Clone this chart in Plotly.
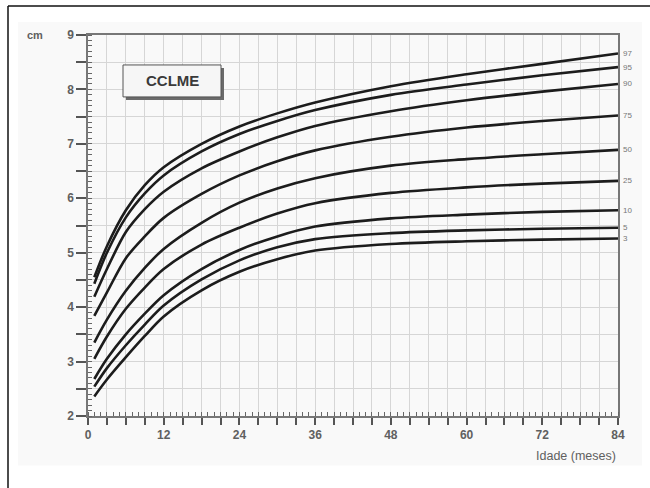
import plotly.graph_objects as go

# ---- data ----
months = [1, 3, 6, 9, 12, 18, 24, 30, 36, 48, 60, 72, 84]
p97 = [4.55, 5.12, 5.78, 6.24, 6.57, 7.00, 7.32, 7.56, 7.76, 8.06, 8.28, 8.47, 8.66]
p95 = [4.43, 5.00, 5.65, 6.09, 6.42, 6.86, 7.18, 7.42, 7.62, 7.90, 8.09, 8.26, 8.41]
p90 = [4.19, 4.70, 5.38, 5.80, 6.12, 6.55, 6.86, 7.12, 7.33, 7.60, 7.80, 7.96, 8.10]
p75 = [3.84, 4.27, 4.90, 5.30, 5.64, 6.08, 6.42, 6.68, 6.88, 7.13, 7.30, 7.42, 7.52]
p50 = [3.35, 3.77, 4.30, 4.72, 5.07, 5.55, 5.92, 6.18, 6.37, 6.60, 6.72, 6.81, 6.89]
p25 = [3.05, 3.46, 3.97, 4.36, 4.70, 5.15, 5.46, 5.72, 5.91, 6.10, 6.20, 6.27, 6.32]
p10 = [2.68, 3.05, 3.50, 3.88, 4.22, 4.70, 5.05, 5.30, 5.48, 5.63, 5.70, 5.75, 5.78]
p5 = [2.54, 2.88, 3.30, 3.68, 4.03, 4.51, 4.86, 5.10, 5.25, 5.36, 5.41, 5.44, 5.46]
p3 = [2.36, 2.67, 3.08, 3.47, 3.83, 4.31, 4.65, 4.88, 5.04, 5.16, 5.21, 5.24, 5.26]

percentile_names = ["97", "95", "90", "75", "50", "25", "10", "5", "3"]
series = [p97, p95, p90, p75, p50, p25, p10, p5, p3]

x_tick_values = list(range(0, 85, 3))
x_tick_labels = ["<b>%d</b>" % v if v % 12 == 0 else "" for v in x_tick_values]
y_tick_values = [2 + 0.5 * i for i in range(15)]
y_tick_labels = ["<b>%d</b>" % int(v) if v == int(v) else "" for v in y_tick_values]

title_box_text = "CCLME"
y_unit_text = "cm"
x_title_text = "Idade (meses)"

# ---- layout helpers (pixel -> paper) ----
W, H = 650, 488
PX0, PX1, PY0, PY1 = 88, 618, 35, 416.5


def px(x):
    return (x - PX0) / (PX1 - PX0)


def py(y):
    return (PY1 - y) / (PY1 - PY0)


FONT = "Liberation Sans, Arial, sans-serif"
GRAY = "#606060"

fig = go.Figure()
for name, vals in zip(percentile_names, series):
    fig.add_trace(go.Scatter(
        x=months, y=vals, mode="lines", name=name,
        line=dict(color="#1c1c1c", width=2.6, shape="spline", smoothing=0.9),
        hoverinfo="skip", showlegend=False,
    ))

annotations = []
for name, vals in zip(percentile_names, series):
    annotations.append(dict(
        x=months[-1], y=vals[-1], xref="x", yref="y", text=name,
        showarrow=False, xanchor="left", yanchor="middle", xshift=3,
        font=dict(family=FONT, size=8, color="#777777"),
    ))
annotations.append(dict(
    x=px(35), y=py(35), xref="paper", yref="paper", text="<b>" + y_unit_text + "</b>",
    showarrow=False, xanchor="center", yanchor="middle",
    font=dict(family=FONT, size=11, color=GRAY),
))
annotations.append(dict(
    x=1.0, y=py(457), xref="paper", yref="paper", text=x_title_text,
    showarrow=False, xanchor="right", yanchor="middle",
    font=dict(family=FONT, size=12.5, color=GRAY),
))
annotations.append(dict(
    x=px(172), y=py(81), xref="paper", yref="paper",
    text="<b>" + title_box_text + "</b>",
    showarrow=False, xanchor="center", yanchor="middle",
    font=dict(family=FONT, size=15, color="#3a3a3a"),
))

shapes = [
    # light chart image background
    dict(type="rect", xref="paper", yref="paper", x0=px(18), x1=px(642),
         y0=py(466), y1=py(22), fillcolor="#f9f9f9", line=dict(width=0),
         layer="below"),
    # outer frame (left and top visible)
    dict(type="line", xref="paper", yref="paper", x0=px(8), x1=px(8),
         y0=py(6), y1=py(500), line=dict(color="#111111", width=1.5)),
    dict(type="line", xref="paper", yref="paper", x0=px(8), x1=px(660),
         y0=py(6), y1=py(6), line=dict(color="#111111", width=1.5)),
    # CCLME box shadow
    dict(type="rect", xref="paper", yref="paper", x0=px(126), x1=px(224),
         y0=py(100), y1=py(68), fillcolor="#6a6a6a", line=dict(width=0)),
    # CCLME box
    dict(type="rect", xref="paper", yref="paper", x0=px(123), x1=px(221),
         y0=py(97), y1=py(65), fillcolor="#f6f6f6",
         line=dict(color="#555555", width=1)),
]

fig.update_layout(
    width=W, height=H, autosize=False,
    margin=dict(l=PX0, r=W - PX1, t=PY0, b=H - PY1, pad=0),
    paper_bgcolor="white", plot_bgcolor="#fdfdfd",
    annotations=annotations, shapes=shapes,
    showlegend=False,
)
fig.update_xaxes(
    range=[0, 84], tickmode="array", tickvals=x_tick_values, ticktext=x_tick_labels,
    showgrid=True, gridcolor="#d6d6d6", gridwidth=1, zeroline=False,
    showline=True, linecolor="#777777", linewidth=1.5, mirror=True,
    ticks="outside", ticklen=7, tickcolor="#555555", tickwidth=1.5,
    tickfont=dict(family=FONT, size=12, color=GRAY),
    minor=dict(dtick=1, ticks="inside", ticklen=4, tickcolor="#666666",
               tickwidth=1, showgrid=False),
)
fig.update_yaxes(
    range=[2, 9], tickmode="array", tickvals=y_tick_values, ticktext=y_tick_labels,
    showgrid=True, gridcolor="#d6d6d6", gridwidth=1, zeroline=False,
    showline=True, linecolor="#777777", linewidth=1.5, mirror=True,
    ticks="outside", ticklen=10, tickcolor="#555555", tickwidth=1.5,
    tickfont=dict(family=FONT, size=12, color=GRAY),
    minor=dict(dtick=0.1, tick0=2, ticks="inside", ticklen=4, tickcolor="#666666",
               tickwidth=1, showgrid=False),
)

fig.write_html("out.html", config={"displayModeBar": False},
               post_script="document.body.style.margin='0';")
